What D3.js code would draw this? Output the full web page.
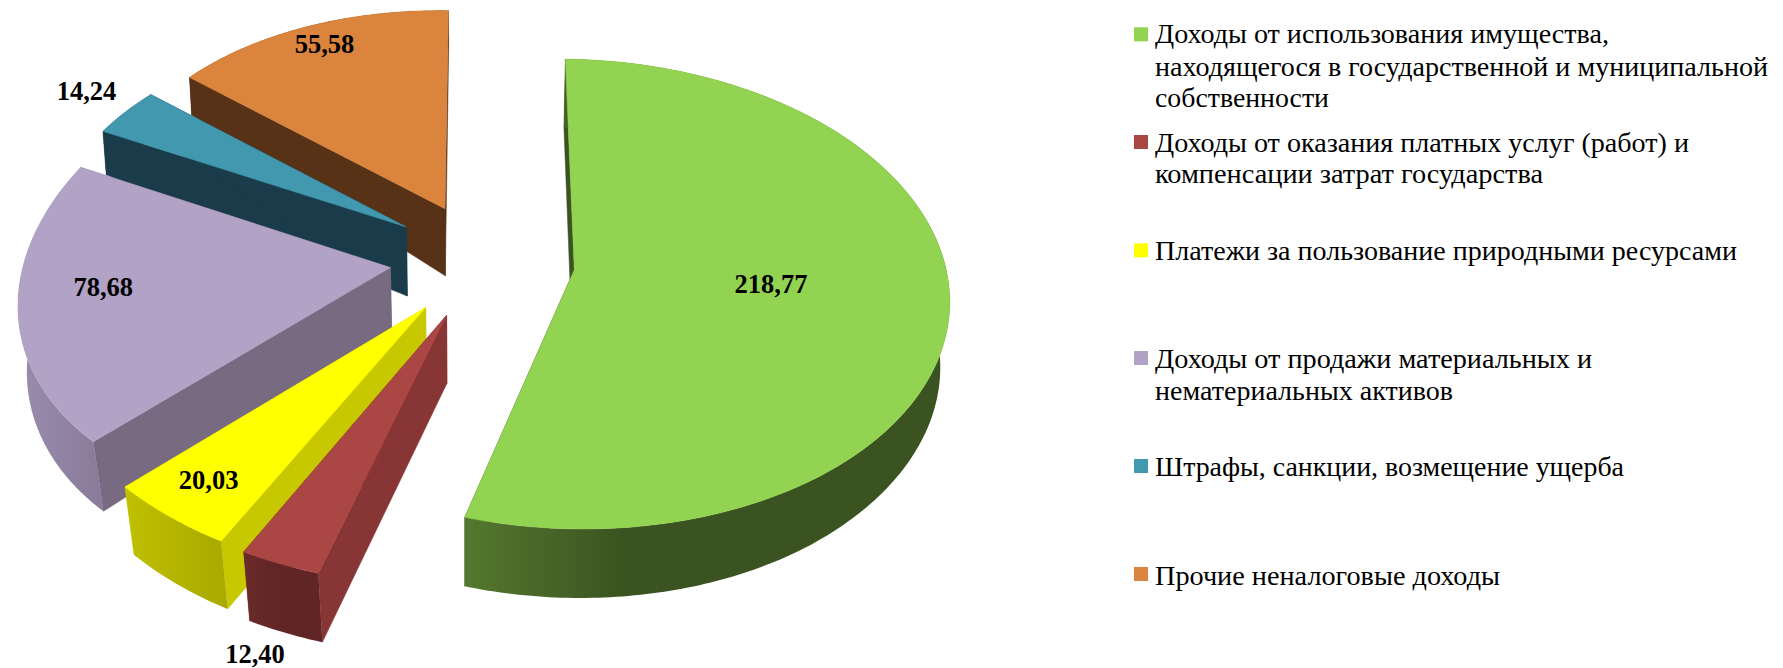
<!DOCTYPE html>
<html><head><meta charset="utf-8">
<style>html,body{margin:0;padding:0;background:#fff}svg{display:block}</style>
<script src="https://cdn.jsdelivr.net/npm/d3@7"></script>
</head><body><svg id="c" width="1783" height="668"></svg>
<script>
// ---- data ----
const categories = [
  ["Доходы от использования имущества,","находящегося в государственной и муниципальной","собственности"],
  ["Доходы от оказания платных услуг (работ) и","компенсации затрат государства"],
  ["Платежи за пользование природными ресурсами"],
  ["Доходы от продажи материальных и","нематериальных активов"],
  ["Штрафы, санкции, возмещение ущерба"],
  ["Прочие неналоговые доходы"]
];
const values = [218.77, 12.40, 20.03, 78.68, 14.24, 55.58];

// ---- colours ----
const topColors  = ["#92D351","#AA4643","#FFFF00","#B2A2C6","#4198AF","#DB843D"];
const wallColors = ["#3B5320","#883535","#C8C800","#786A80","#1A3C4A","#573216"];
const rimStops = [
  ["#54782F","#3B5320","#3B5320"],
  ["#6A2A2A","#602525","#602525"],
  ["#C0C000","#B4B400","#A8A800"],
  ["#9A8DAC","#9183A3","#8A7A9A"],
  ["#1A3C4A","#1A3C4A","#1A3C4A"],
  ["#573216","#573216","#573216"]
];

// ---- layout: the exploded pieces, each with its own foreshortening ----
const pieCentre = {x:480, y:270};
const firstAngleDeg = -1.6;
const explodeX = [94.3, -33.4, -54.4, -89.6, -73.6, -35];
const explodeY = [-0.3, 45.3, 37.6, -2.4, -43, -61.2];
const ellipseDX = [-3.6,0,0,0,0,0];
const ellipseDY = [24.3,0,0,0,0,0];
const radiusXX = [379,418,398,368.6,352,336];
const radiusXY = [-5.25,-17.6,-29.4,-53.4,-33,-12.9];
const radiusYX = [11,12.9,18.4,-4,10.6,11];
const radiusYY = [234.7,271.2,270.3,241,200,197.9];
const depthAtApex = [70,68,69,60,69,67];
const depthAtRim  = [69,69,68,69.5,43.5,37.5];
const vanishX = 465, vanishK = 0.000416;
const convergence = d3.scaleLinear().domain([200,450]).range([0.5,0.95]).clamp(true);
const paintOrder = [5,4,3,2,1,0];

const labelX = [771,255,208.6,103.3,86.5,324.5];
const labelY = [293.4,663,489,296,100,53.3];
const labelFontSize = 26.5;

const legendSwatchX = 1134, legendSwatchSize = 14;
const legendTextX = 1155, legendFontSize = 28;
const legendSwatchY = [27.3,135,243.3,351,459,567];
const legendBaselines = [[43.3,76,107.3],[151.7,183.3],[259.7],[367.7,400],[476],[585]];
const legendLineWidths = [[454,613,174],[534,388],[582],[437,298],[469],[345]];

// ---- drawing ----
const svg = d3.select("#c");
const defs = svg.append("defs");
const fmt = d3.formatLocale({decimal:",",thousands:" ",grouping:[3],currency:["",""]}).format(".2f");

const start = firstAngleDeg*Math.PI/180;
const arcs = d3.pie().sort(null).startAngle(start).endAngle(start+2*Math.PI)(values);

const line = d3.line().x(p=>p[0]).y(p=>p[1]);
const apex = i => [pieCentre.x+explodeX[i], pieCentre.y+explodeY[i]];
function rim(i,a){
  const ux=Math.sin(a), uy=-Math.cos(a), A=apex(i);
  return [A[0]+ellipseDX[i]+radiusXX[i]*ux+radiusXY[i]*uy,
          A[1]+ellipseDY[i]+radiusYX[i]*ux+radiusYY[i]*uy];
}
function drop(p,d){ return [p[0]+(vanishX-p[0])*d*vanishK*convergence(p[1]), p[1]+d]; }
function rimSamples(i,a0,a1){
  const n=Math.max(6,Math.ceil((a1-a0)*60));
  return d3.range(n+1).map(k=>rim(i,a0+(a1-a0)*k/n));
}

rimStops.forEach((st,i)=>{
  const g=defs.append("linearGradient").attr("id","rim"+i).attr("x1",0).attr("x2",1).attr("y1",0).attr("y2",0);
  const off = i===0 ? [0,0.33,1] : [0,0.5,1];
  st.forEach((c,k)=>g.append("stop").attr("offset",off[k]).attr("stop-color",c));
});

paintOrder.forEach(i=>{
  const d=arcs[i], A=apex(i), g=svg.append("g");
  const top=rimSamples(i,d.startAngle,d.endAngle);
  const a0=top[0], a1=top[top.length-1];
  const Ab=drop(A,depthAtApex[i]);
  const bottom=top.map(p=>drop(p,depthAtRim[i]));
  // radial walls
  [[a0,bottom[0]],[a1,bottom[bottom.length-1]]].forEach(e=>{
    g.append("path").attr("d",line([A,e[0],e[1],Ab])+"Z")
      .attr("fill",wallColors[i]).attr("stroke",wallColors[i]).attr("stroke-width",0.5);
  });
  // outer wall
  g.append("path").attr("d",line(top.concat(bottom.slice().reverse()))+"Z")
    .attr("fill","url(#rim"+i+")");
  // top face
  g.append("path").attr("d",line([A].concat(top))+"Z")
    .attr("fill",topColors[i]).attr("stroke",topColors[i]).attr("stroke-width",0.5);
});

svg.append("g").selectAll("text").data(values).join("text")
  .attr("x",(v,i)=>labelX[i]).attr("y",(v,i)=>labelY[i])
  .attr("text-anchor","middle")
  .attr("font-family","'Liberation Serif',serif").attr("font-weight","bold")
  .attr("font-size",labelFontSize).attr("fill","#000")
  .text(v=>fmt(v));

const leg=svg.append("g").selectAll("g").data(categories).join("g");
leg.append("rect").attr("x",legendSwatchX).attr("y",(c,i)=>legendSwatchY[i])
  .attr("width",legendSwatchSize).attr("height",legendSwatchSize)
  .attr("fill",(c,i)=>topColors[i]);
leg.each(function(c,i){
  d3.select(this).selectAll("text").data(c).join("text")
    .attr("x",legendTextX).attr("y",(t,k)=>legendBaselines[i][k])
    .attr("textLength",(t,k)=>legendLineWidths[i][k]).attr("lengthAdjust","spacingAndGlyphs")
    .attr("font-family","'Liberation Serif',serif").attr("font-size",legendFontSize)
    .attr("fill","#000").text(t=>t);
});
</script></body></html>
